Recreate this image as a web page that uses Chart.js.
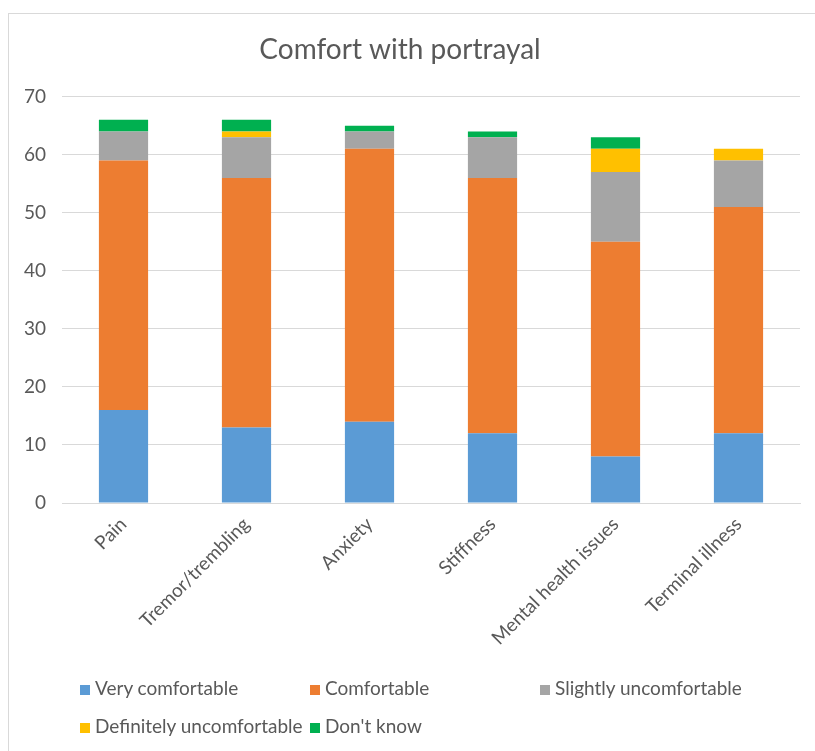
<!DOCTYPE html>
<html>
<head>
<meta charset="utf-8">
<script src="https://cdn.jsdelivr.net/npm/chart.js@4/dist/chart.umd.min.js"></script>
<style>
  body { margin: 0; background: #fff; font-family: Lato, "Open Sans", sans-serif; }
  #frame { position: absolute; left: 8px; top: 13px; width: 830px; height: 760px; border: 1px solid #d9d9d9; box-sizing: border-box; }
  #wrap { position: absolute; left: 0; top: 0; width: 815px; height: 751px; }
  .leg { position: absolute; font-size: 19px; color: #595959; white-space: nowrap; line-height: 22px; }
  .leg span { display: inline-block; width: 10px; height: 10px; margin-right: 5px; }
</style>
</head>
<body>
<div id="frame"></div>
<div id="wrap"><canvas id="comfortChart" width="815" height="751"></canvas></div>
<div id="legend"></div>
<script>
const categories = ["Pain", "Tremor/trembling", "Anxiety", "Stiffness", "Mental health issues", "Terminal illness"]

const veryComfortable = [16, 13, 14, 12, 8, 12]
const comfortable = [43, 43, 47, 44, 37, 39]
const slightlyUncomfortable = [5, 7, 3, 7, 12, 8]
const definitelyUncomfortable = [0, 1, 0, 0, 4, 2]
const dontKnow = [2, 2, 1, 1, 2, 0]

const yTicks = [0, 10, 20, 30, 40, 50, 60, 70]

const series = [
  { label: "Very comfortable", data: veryComfortable, color: "#5b9bd5" },
  { label: "Comfortable", data: comfortable, color: "#ed7d31" },
  { label: "Slightly uncomfortable", data: slightlyUncomfortable, color: "#a5a5a5" },
  { label: "Definitely uncomfortable", data: definitelyUncomfortable, color: "#ffc000" },
  { label: "Don't know", data: dontKnow, color: "#00b050" },
]

// legend laid out like the Excel one (fixed columns)
const legendPos = [[80, 677], [310, 677], [540, 677], [80, 715], [310, 715]]
const legendEl = document.getElementById("legend")
series.forEach((s, i) => {
  const d = document.createElement("div")
  d.className = "leg"
  d.style.left = legendPos[i][0] + "px"
  d.style.top = legendPos[i][1] + "px"
  d.innerHTML = '<span style="background:' + s.color + '"></span>' + s.label
  legendEl.appendChild(d)
})

const ctx = document.getElementById("comfortChart")

new Chart(ctx, {
  type: "bar",
  data: {
    labels: categories,
    datasets: series.map(s => ({
      label: s.label,
      data: s.data,
      backgroundColor: s.color,
      borderWidth: 0,
      categoryPercentage: 1,
      barPercentage: 0.4,
    })),
  },
  options: {
    responsive: false,
    animation: false,
    layout: { padding: { left: 0, right: 15, top: 0, bottom: 0 } },
    plugins: {
      legend: { display: false },
      tooltip: { enabled: false },
      title: {
        display: true,
        text: "Comfort with portrayal",
        color: "#595959",
        font: { family: "Lato", size: 28, weight: "normal" },
        padding: { top: 33, bottom: 30 },
      },
    },
    scales: {
      x: {
        stacked: true,
        grid: { display: false },
        border: { color: "#d9d9d9", width: 1 },
        ticks: {
          color: "#595959",
          font: { family: "Lato", size: 19 },
          maxRotation: 45,
          minRotation: 45,
          padding: 2,
        },
        afterFit: scale => { scale.height = 751 - 503 },
      },
      y: {
        stacked: true,
        min: 0,
        max: 70,
        afterBuildTicks: scale => { scale.ticks = yTicks.map(v => ({ value: v })) },
        grid: { color: "#d9d9d9", lineWidth: 1, drawTicks: false },
        border: { display: false },
        ticks: {
          color: "#595959",
          font: { family: "Lato", size: 19 },
          padding: 16,
        },
        afterFit: scale => { scale.width = 62 },
      },
    },
  },
})
</script>
</body>
</html>
